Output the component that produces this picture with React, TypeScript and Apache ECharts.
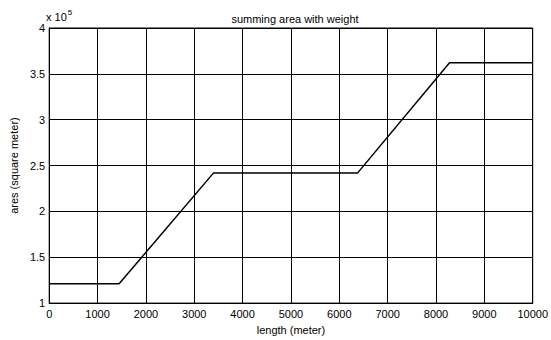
import React, { useEffect, useRef } from "react";
import * as echarts from "echarts";

const lengthMeters = [0, 1446, 3400, 6380, 8280, 10000];
const areaValues = [121000, 121000, 242000, 242000, 362000, 362000];
const xTicks = [0, 1000, 2000, 3000, 4000, 5000, 6000, 7000, 8000, 9000, 10000];
const yTicks = [1, 1.5, 2, 2.5, 3, 3.5, 4];
const titleText = "summing area with weight";
const xName = "length (meter)";
const yName = "ares (square meter)";
const scale = 100000;

export default function App() {
  const ref = useRef<HTMLDivElement>(null);
  useEffect(() => {
    if (!ref.current) return;
    const chart = echarts.init(ref.current, null, { renderer: "svg" });
    const font = "'Liberation Sans', Arial, Helvetica, sans-serif";
    chart.setOption({
      animation: false,
      backgroundColor: "#fff",
      title: {
        text: titleText,
        left: 290,
        top: 8,
        textAlign: "center",
        textStyle: { fontFamily: font, fontSize: 11, fontWeight: "normal", color: "#000" },
      },
      graphic: [
        {
          type: "text",
          left: 46,
          top: 8,
          style: {
            text: "{a|x 10}{b|5}",
            rich: {
              a: { fontFamily: font, fontSize: 11, fill: "#000", padding: [6, 0, 0, 0] },
              b: { fontFamily: font, fontSize: 8, fill: "#000", padding: [0, 0, 4, 1] },
            },
          },
        },
      ],
      grid: {
        left: 46,
        right: 16,
        top: 28,
        bottom: 36,
        show: true,
        borderColor: "#000",
        borderWidth: 1,
        backgroundColor: "#fff",
      },
      xAxis: {
        type: "value",
        min: xTicks[0],
        max: xTicks[xTicks.length - 1],
        interval: 1000,
        name: xName,
        nameLocation: "middle",
        nameGap: 17,
        nameTextStyle: { fontFamily: font, fontSize: 11, color: "#000" },
        axisLine: { show: true, lineStyle: { color: "#000", width: 1 } },
        axisTick: { show: true, inside: true, length: 4, lineStyle: { color: "#000" } },
        axisLabel: {
          fontFamily: font,
          fontSize: 11,
          color: "#000",
          margin: 5,
          formatter: (v: number) => String(v),
        },
        splitLine: { show: true, lineStyle: { color: "#000", width: 1 } },
      },
      yAxis: {
        type: "value",
        min: yTicks[0] * scale,
        max: yTicks[yTicks.length - 1] * scale,
        interval: 0.5 * scale,
        name: yName,
        nameLocation: "middle",
        nameGap: 27,
        nameTextStyle: { fontFamily: font, fontSize: 11, color: "#000" },
        axisLine: { show: true, lineStyle: { color: "#000", width: 1 } },
        axisTick: { show: true, inside: true, length: 4, lineStyle: { color: "#000" } },
        axisLabel: {
          fontFamily: font,
          fontSize: 11,
          color: "#000",
          margin: 4,
          formatter: (v: number) => String(v / scale),
        },
        splitLine: { show: true, lineStyle: { color: "#000", width: 1 } },
      },
      series: [
        {
          type: "line",
          data: lengthMeters.map((x, i) => [x, areaValues[i]]),
          showSymbol: false,
          lineStyle: { color: "#000", width: 1.5 },
          silent: true,
        },
      ],
    });
    return () => chart.dispose();
  }, []);
  return (
    <div
      ref={ref}
      style={{ position: "fixed", left: 0, top: 0, width: 551, height: 340 }}
    />
  );
}
